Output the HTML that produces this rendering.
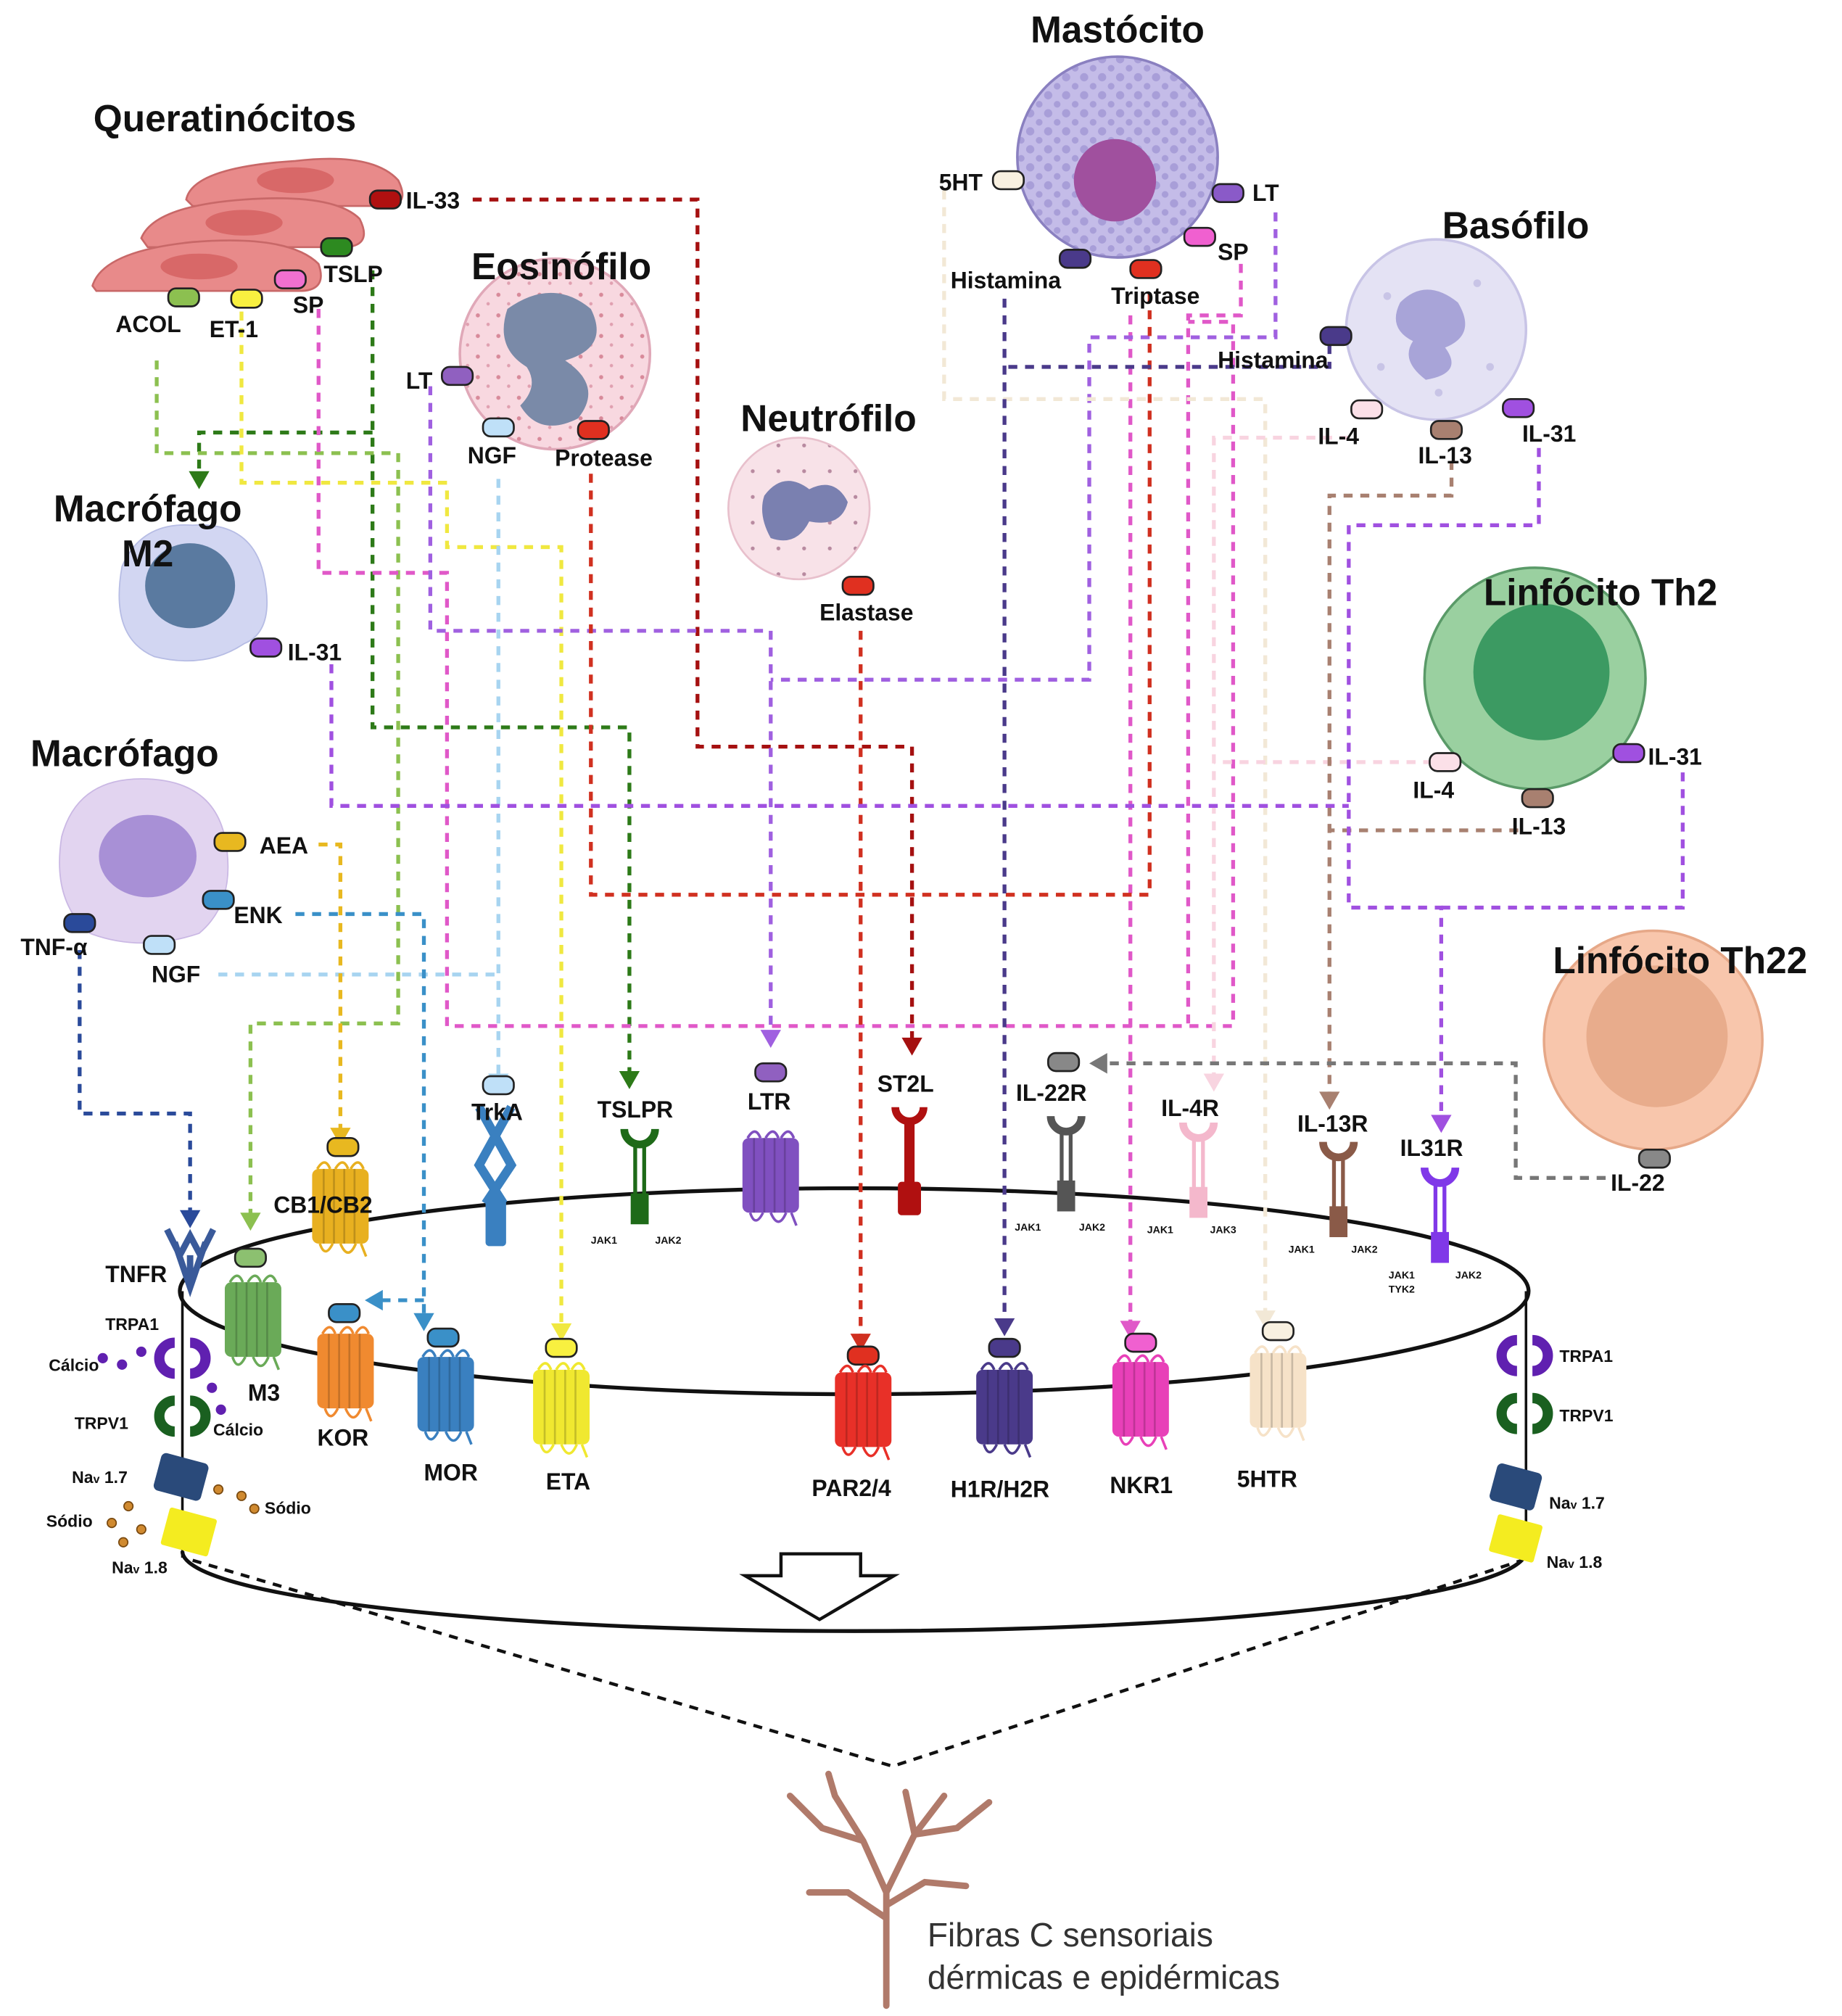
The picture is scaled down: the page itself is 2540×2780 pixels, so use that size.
<!DOCTYPE html>
<html><head><meta charset="utf-8"><style>
html,body{margin:0;padding:0;background:#fff;}
svg{display:block;}
text{font-family:"Liberation Sans",sans-serif;font-weight:bold;fill:#111;}
.t{font-size:29px;}
.l{font-size:18px;}
.s{font-size:8px;}
.d{fill:none;stroke-width:3;stroke-dasharray:7 6;}
</style></head><body>
<svg width="2540" height="2780" viewBox="0 0 1434 1566" preserveAspectRatio="none" xmlns="http://www.w3.org/2000/svg">
<defs>
<symbol id="tm" viewBox="0 0 44 70" overflow="visible">
<rect x="0" y="6" width="44" height="58" rx="5" fill="currentColor"/>
<g stroke="#000" stroke-opacity=".18" stroke-width="1.5"><line x1="9" y1="6" x2="9" y2="64"/><line x1="17" y1="6" x2="17" y2="64"/><line x1="25" y1="6" x2="25" y2="64"/><line x1="33" y1="6" x2="33" y2="64"/></g>
<path d="M4 6 Q10 -4 14 6 M18 6 Q24 -4 28 6 M30 6 Q36 -4 40 6 M6 64 Q10 76 16 64 M22 64 Q28 78 34 64 M38 64 L42 74" stroke="currentColor" stroke-width="2" fill="none"/>
</symbol>
<symbol id="cr" viewBox="0 0 30 80" overflow="visible">
<path d="M3 2 A12 12 0 0 0 27 2" stroke="currentColor" stroke-width="6" fill="none"/>
<rect x="10" y="14" width="3" height="40" fill="currentColor"/><rect x="17" y="14" width="3" height="40" fill="currentColor"/>
<rect x="8" y="52" width="14" height="24" fill="currentColor"/>
</symbol>
<pattern id="mdots" width="14" height="14" patternUnits="userSpaceOnUse">
<rect width="14" height="14" fill="#c4bce8"/><circle cx="4" cy="4" r="3.2" fill="#a89ed8"/><circle cx="11" cy="11" r="2.6" fill="#a89ed8"/>
</pattern>
<pattern id="edots" width="16" height="16" patternUnits="userSpaceOnUse">
<rect width="16" height="16" fill="#f8d8e0"/><circle cx="4" cy="5" r="1.6" fill="#d88a9a"/><circle cx="12" cy="12" r="1.3" fill="#e0a0b0"/>
</pattern>
<pattern id="ndots" width="20" height="20" patternUnits="userSpaceOnUse">
<rect width="20" height="20" fill="#f8e2e8"/><circle cx="6" cy="6" r="1.5" fill="#b88aa0"/>
</pattern>
</defs>

<!-- membrane cylinder -->
<ellipse cx="665" cy="1003" rx="525" ry="80" fill="none" stroke="#111" stroke-width="3"/>
<path d="M142 1205 A523 62 0 0 0 1188 1205" fill="none" stroke="#111" stroke-width="3"/>
<line x1="142" y1="1003" x2="142" y2="1210" stroke="#111" stroke-width="2"/>
<line x1="1188" y1="1003" x2="1188" y2="1210" stroke="#111" stroke-width="2"/>
<path d="M608 1207 H670 V1224 H696 L638 1258 L580 1224 H608 Z" fill="#fff" stroke="#111" stroke-width="2.5"/>
<path d="M150 1212 L695 1372 L1185 1212" fill="none" stroke="#111" stroke-width="2.5" stroke-dasharray="7 6"/>
<!-- tree -->
<g stroke="#b07a6a" fill="none" stroke-linecap="round">
<path d="M690 1558 L690 1470 L672 1430 L650 1395 M690 1470 L712 1425 L735 1395 M672 1430 L640 1420 L615 1395 M650 1395 L645 1378 M712 1425 L745 1420 L770 1400 M690 1490 L660 1470 L630 1470 M690 1480 L720 1462 L752 1465 M712 1425 L705 1392" stroke-width="5"/>
</g>
<text x="722" y="1512" style="font-size:26px;font-weight:normal;fill:#333">Fibras C sensoriais</text>
<text x="722" y="1545" style="font-size:26px;font-weight:normal;fill:#333">dérmicas e epidérmicas</text>

<!-- connectors -->
<path class="d" stroke="#a51010" d="M368 155 H543 V580 H710 V808"/>
<path class="d" stroke="#2d7a18" d="M290 210 V565 H490 V835"/>
<path class="d" stroke="#2d7a18" d="M290 336 H155 V370"/>
<path class="d" stroke="#8cc050" d="M122 280 V352 H310 V795 H195 V945"/>
<path class="d" stroke="#f0e840" d="M188 242 V375 H348 V425 H437 V1032"/>
<path class="d" stroke="#e058c8" d="M248 240 V445 H348 V797 H960 V250 H925"/>
<path class="d" stroke="#e058c8" d="M966 205 V245 H925 V800"/>
<path class="d" stroke="#e058c8" d="M880 245 V1030"/>
<path class="d" stroke="#a060e0" d="M335 300 V490 H600 V805"/>
<path class="d" stroke="#a060e0" d="M993 165 V262 H848 V528 H600"/>
<path class="d" stroke="#a7d4f0" d="M388 372 V838"/>
<path class="d" stroke="#a7d4f0" d="M170 757 H388"/>
<path class="d" stroke="#d03020" d="M460 368 V695 H895 V225"/>
<path class="d" stroke="#d03020" d="M670 490 V1040"/>
<path class="d" stroke="#f2e8d6" d="M735 148 V310 H985 V1022"/>
<path class="d" stroke="#4a3a8a" d="M782 232 V1028"/>
<path class="d" stroke="#4a3a8a" d="M1035 268 V285 H782"/>
<path class="d" stroke="#f8d4e0" d="M1050 340 H945 V838"/>
<path class="d" stroke="#f8d4e0" d="M1115 592 H945"/>
<path class="d" stroke="#a88070" d="M1130 358 V385 H1035 V852"/>
<path class="d" stroke="#a88070" d="M1182 645 H1035"/>
<path class="d" stroke="#a050e0" d="M1198 348 V408 H1050 V705 H1122 V870"/>
<path class="d" stroke="#a050e0" d="M1310 600 V705 H1122"/>
<path class="d" stroke="#a050e0" d="M258 516 V626 H1050"/>
<path class="d" stroke="#777" d="M1250 915 H1180 V826 H862"/>
<path class="d" stroke="#e8b820" d="M248 656 H265 V880"/>
<path class="d" stroke="#3a90c8" d="M230 710 H330 V1025"/>
<path class="d" stroke="#3a90c8" d="M330 1010 H292"/>
<path class="d" stroke="#2a4a9a" d="M62 738 V865 H148 V945"/>

<!-- arrowheads -->
<g>
<path d="M702 806 h16 l-8 14z" fill="#a51010"/>
<path d="M482 832 h16 l-8 14z" fill="#2d7a18"/>
<path d="M147 366 h16 l-8 14z" fill="#2d7a18"/>
<path d="M187 942 h16 l-8 14z" fill="#8cc050"/>
<path d="M429 1028 h16 l-8 14z" fill="#f0e840"/>
<path d="M872 1026 h16 l-8 14z" fill="#e058c8"/>
<path d="M592 800 h16 l-8 14z" fill="#a060e0"/>
<path d="M380 834 h16 l-8 14z" fill="#a7d4f0"/>
<path d="M662 1036 h16 l-8 14z" fill="#d03020"/>
<path d="M977 1018 h16 l-8 14z" fill="#f2e8d6"/>
<path d="M774 1024 h16 l-8 14z" fill="#4a3a8a"/>
<path d="M937 834 h16 l-8 14z" fill="#f8d4e0"/>
<path d="M1027 848 h16 l-8 14z" fill="#a88070"/>
<path d="M1114 866 h16 l-8 14z" fill="#a050e0"/>
<path d="M257 876 h16 l-8 14z" fill="#e8b820"/>
<path d="M322 1020 h16 l-8 14z" fill="#3a90c8"/>
<path d="M298 1002 v16 l-14 -8z" fill="#3a90c8"/>
<path d="M140 940 h16 l-8 14z" fill="#2a4a9a"/>
<path d="M862 818 v16 l-14 -8z" fill="#777"/>
</g>

<!-- cells -->
<g fill="#e88a8a" stroke="#c86868" stroke-width="1.5">
<path d="M145 155 Q150 130 230 125 Q290 118 310 140 Q320 160 300 160 L150 160 Z"/>
<path d="M110 185 Q120 160 190 155 Q260 150 280 170 Q290 190 270 192 L115 192 Z"/>
<path d="M72 222 Q80 195 150 188 Q225 182 248 205 Q255 225 235 226 L75 226 Z"/>
</g>
<ellipse cx="230" cy="140" rx="30" ry="10" fill="#d86868"/>
<ellipse cx="190" cy="173" rx="30" ry="10" fill="#d86868"/>
<ellipse cx="155" cy="207" rx="30" ry="10" fill="#d86868"/>
<circle cx="432" cy="275" r="74" fill="url(#edots)" stroke="#e0a8b8" stroke-width="2"/>
<path d="M395 240 Q430 215 460 240 Q475 270 440 280 Q470 300 450 325 Q420 340 405 315 Q420 300 410 285 Q385 270 395 240 Z" fill="#7a8aa8"/>
<circle cx="622" cy="395" r="55" fill="url(#ndots)" stroke="#e8c0cc" stroke-width="1.5"/>
<path d="M595 385 Q610 365 630 380 Q650 370 660 390 Q655 410 630 405 Q620 425 600 418 Q590 400 595 385 Z" fill="#7a80b0"/>
<circle cx="870" cy="122" r="78" fill="url(#mdots)" stroke="#8a80c0" stroke-width="2"/>
<circle cx="868" cy="140" r="32" fill="#a0509e"/>
<circle cx="1118" cy="256" r="70" fill="#e4e2f4" stroke="#c8c4e6" stroke-width="2"/>
<g fill="#c8c4e6"><circle cx="1080" cy="230" r="3"/><circle cx="1150" cy="220" r="3"/><circle cx="1160" cy="285" r="3"/><circle cx="1075" cy="285" r="3"/><circle cx="1120" cy="305" r="3"/></g>
<path d="M1090 235 Q1110 215 1135 235 Q1150 260 1125 270 Q1140 290 1110 295 Q1090 280 1100 265 Q1080 255 1090 235 Z" fill="#a8a4d8"/>
<path d="M95 440 Q110 405 150 408 Q195 405 205 445 Q215 490 190 500 Q160 520 120 510 Q85 495 95 440 Z" fill="#d2d6f2" stroke="#b6bce4"/>
<ellipse cx="148" cy="455" rx="35" ry="33" fill="#5a7aa0"/>
<path d="M48 650 Q60 605 110 605 Q165 605 175 650 Q185 700 155 725 Q110 740 70 725 Q40 700 48 650 Z" fill="#e2d4f0" stroke="#cab8e4"/>
<ellipse cx="115" cy="665" rx="38" ry="32" fill="#a890d6"/>
<circle cx="1195" cy="527" r="86" fill="#9ad0a0" stroke="#5a9a68" stroke-width="2"/>
<circle cx="1200" cy="522" r="53" fill="#3c9a62"/>
<circle cx="1287" cy="808" r="85" fill="#f8c6ac" stroke="#e6a888" stroke-width="2"/>
<circle cx="1290" cy="805" r="55" fill="#e8ac8c"/>

<!-- ligand pills -->
<g stroke="#222" stroke-width="1.5">
<rect x="288" y="148" width="24" height="14" rx="6" fill="#b01010"/>
<rect x="250" y="185" width="24" height="14" rx="6" fill="#2d8a20"/>
<rect x="131" y="224" width="24" height="14" rx="6" fill="#8cc050"/>
<rect x="180" y="225" width="24" height="14" rx="6" fill="#f8f040"/>
<rect x="214" y="210" width="24" height="14" rx="6" fill="#f070d0"/>
<rect x="344" y="285" width="24" height="14" rx="6" fill="#9060c0"/>
<rect x="376" y="325" width="24" height="14" rx="6" fill="#bfe0f8"/>
<rect x="450" y="327" width="24" height="14" rx="6" fill="#e03020"/>
<rect x="656" y="448" width="24" height="14" rx="6" fill="#e03020"/>
<rect x="773" y="133" width="24" height="14" rx="6" fill="#f8f0e0"/>
<rect x="944" y="143" width="24" height="14" rx="6" fill="#8a5ac8"/>
<rect x="922" y="177" width="24" height="14" rx="6" fill="#f060d0"/>
<rect x="825" y="194" width="24" height="14" rx="6" fill="#4a3a8a"/>
<rect x="880" y="202" width="24" height="14" rx="6" fill="#e03020"/>
<rect x="1028" y="254" width="24" height="14" rx="6" fill="#4a3a8a"/>
<rect x="1052" y="311" width="24" height="14" rx="6" fill="#fbe0e8"/>
<rect x="1114" y="327" width="24" height="14" rx="6" fill="#a88070"/>
<rect x="1170" y="310" width="24" height="14" rx="6" fill="#a050e0"/>
<rect x="195" y="496" width="24" height="14" rx="6" fill="#a050e0"/>
<rect x="1113" y="585" width="24" height="14" rx="6" fill="#fbe0e8"/>
<rect x="1256" y="578" width="24" height="14" rx="6" fill="#a050e0"/>
<rect x="1185" y="613" width="24" height="14" rx="6" fill="#a88070"/>
<rect x="1276" y="893" width="24" height="14" rx="6" fill="#888"/>
<rect x="167" y="647" width="24" height="14" rx="6" fill="#e8b820"/>
<rect x="158" y="692" width="24" height="14" rx="6" fill="#3a90c8"/>
<rect x="50" y="710" width="24" height="14" rx="6" fill="#2a4a9a"/>
<rect x="112" y="727" width="24" height="14" rx="6" fill="#bfe0f8"/>
<rect x="376" y="836" width="24" height="14" rx="6" fill="#bfe0f8"/>
<rect x="588" y="826" width="24" height="14" rx="6" fill="#9060c0"/>
<rect x="816" y="818" width="24" height="14" rx="6" fill="#888"/>
<rect x="255" y="884" width="24" height="14" rx="6" fill="#e8b820"/>
<rect x="183" y="970" width="24" height="14" rx="6" fill="#8cc070"/>
<rect x="256" y="1013" width="24" height="14" rx="6" fill="#3a90c8"/>
<rect x="333" y="1032" width="24" height="14" rx="6" fill="#3a90c8"/>
<rect x="425" y="1040" width="24" height="14" rx="6" fill="#f8f040"/>
<rect x="660" y="1046" width="24" height="14" rx="6" fill="#e03020"/>
<rect x="770" y="1040" width="24" height="14" rx="6" fill="#4a3a8a"/>
<rect x="876" y="1036" width="24" height="14" rx="6" fill="#f060d0"/>
<rect x="983" y="1027" width="24" height="14" rx="6" fill="#f8f0e0"/>
</g>

<use href="#tm" x="243" y="902" width="44" height="70" style="color:#e8b020"/>
<use href="#tm" x="175" y="990" width="44" height="70" style="color:#6aaa58"/>
<use href="#tm" x="247" y="1030" width="44" height="70" style="color:#f08a30"/>
<use href="#tm" x="325" y="1048" width="44" height="70" style="color:#3a80c0"/>
<use href="#tm" x="415" y="1058" width="44" height="70" style="color:#f0e830"/>
<use href="#tm" x="578" y="878" width="44" height="70" style="color:#8050c0"/>
<use href="#tm" x="650" y="1060" width="44" height="70" style="color:#e83028"/>
<use href="#tm" x="760" y="1058" width="44" height="70" style="color:#4a3a8a"/>
<use href="#tm" x="866" y="1052" width="44" height="70" style="color:#e840b8"/>
<use href="#tm" x="973" y="1045" width="44" height="70" style="color:#f6e2c8"/>
<use href="#cr" x="483" y="875" width="30" height="80" style="color:#1e6a18"/>
<use href="#cr" x="815" y="865" width="30" height="80" style="color:#555"/>
<use href="#cr" x="918" y="870" width="30" height="80" style="color:#f4b8cc"/>
<use href="#cr" x="1027" y="885" width="30" height="80" style="color:#8a5a48"/>
<use href="#cr" x="1106" y="905" width="30" height="80" style="color:#8038e8"/>
<path d="M697 860 A11 11 0 0 0 719 860" stroke="#b01010" stroke-width="6" fill="none"/>
<rect x="704" y="870" width="8" height="50" fill="#b01010"/><rect x="699" y="918" width="18" height="26" rx="3" fill="#b01010"/>
<path d="M373 860 L398 905 L378 935 M398 860 L373 905 L392 935" stroke="#3a80c0" stroke-width="7" fill="none"/>
<rect x="378" y="930" width="16" height="38" rx="3" fill="#3a80c0"/>
<path d="M130 955 L140 975 M166 955 L156 975 M140 975 L148 960 L156 975 M148 975 V995 M136 965 L148 1000 L160 965" stroke="#3a5a9a" stroke-width="5" fill="none"/>
<g fill="none" stroke-width="8">
<path d="M136 1043 A12 12 0 1 0 136 1067" stroke="#6020b0"/><path d="M148 1043 A12 12 0 1 1 148 1067" stroke="#6020b0"/>
<path d="M136 1088 A12 12 0 1 0 136 1112" stroke="#1a6020"/><path d="M148 1088 A12 12 0 1 1 148 1112" stroke="#1a6020"/>
<path d="M1181 1041 A12 12 0 1 0 1181 1065" stroke="#6020b0"/><path d="M1193 1041 A12 12 0 1 1 1193 1065" stroke="#6020b0"/>
<path d="M1181 1086 A12 12 0 1 0 1181 1110" stroke="#1a6020"/><path d="M1193 1086 A12 12 0 1 1 1193 1110" stroke="#1a6020"/>
</g>
<g fill="#6020b0"><circle cx="80" cy="1055" r="4"/><circle cx="95" cy="1060" r="4"/><circle cx="110" cy="1050" r="4"/><circle cx="165" cy="1078" r="4"/><circle cx="172" cy="1095" r="4"/></g>
<g transform="rotate(15 140 1147)"><rect x="122" y="1132" width="38" height="30" rx="4" fill="#2a4a7a"/></g>
<g transform="rotate(15 147 1190)"><rect x="128" y="1175" width="38" height="30" rx="2" fill="#f4ec20"/></g>
<g transform="rotate(15 1180 1155)"><rect x="1162" y="1140" width="36" height="30" rx="4" fill="#2a4a7a"/></g>
<g transform="rotate(15 1180 1195)"><rect x="1162" y="1180" width="36" height="30" rx="2" fill="#f4ec20"/></g>
<g fill="#d08a30" stroke="#7a4a10"><circle cx="100" cy="1170" r="3.5"/><circle cx="87" cy="1183" r="3.5"/><circle cx="96" cy="1198" r="3.5"/><circle cx="110" cy="1188" r="3.5"/><circle cx="170" cy="1157" r="3.5"/><circle cx="188" cy="1162" r="3.5"/><circle cx="198" cy="1172" r="3.5"/></g>

<text class="t" x="175" y="102" text-anchor="middle">Queratinócitos</text>
<text class="t" x="437" y="217" text-anchor="middle">Eosinófilo</text>
<text class="t" x="645" y="335" text-anchor="middle">Neutrófilo</text>
<text class="t" x="870" y="33" text-anchor="middle">Mastócito</text>
<text class="t" x="1180" y="185" text-anchor="middle">Basófilo</text>
<text class="t" x="115" y="405" text-anchor="middle">Macrófago</text>
<text class="t" x="115" y="440" text-anchor="middle">M2</text>
<text class="t" x="1246" y="470" text-anchor="middle">Linfócito Th2</text>
<text class="t" x="97" y="595" text-anchor="middle">Macrófago</text>
<text class="t" x="1308" y="756" text-anchor="middle">Linfócito Th22</text>

<g>
<text class="l" x="316" y="162">IL-33</text>
<text class="l" x="252" y="219">TSLP</text>
<text class="l" x="90" y="258">ACOL</text>
<text class="l" x="163" y="262">ET-1</text>
<text class="l" x="228" y="243">SP</text>
<text class="l" x="316" y="302">LT</text>
<text class="l" x="364" y="360">NGF</text>
<text class="l" x="432" y="362">Protease</text>
<text class="l" x="638" y="482">Elastase</text>
<text class="l" x="731" y="148">5HT</text>
<text class="l" x="975" y="156">LT</text>
<text class="l" x="948" y="202">SP</text>
<text class="l" x="740" y="224">Histamina</text>
<text class="l" x="865" y="236">Triptase</text>
<text class="l" x="948" y="286">Histamina</text>
<text class="l" x="1026" y="345">IL-4</text>
<text class="l" x="1104" y="360">IL-13</text>
<text class="l" x="1185" y="343">IL-31</text>
<text class="l" x="224" y="513">IL-31</text>
<text class="l" x="1100" y="620">IL-4</text>
<text class="l" x="1283" y="594">IL-31</text>
<text class="l" x="1177" y="648">IL-13</text>
<text class="l" x="1254" y="925">IL-22</text>
<text class="l" x="202" y="663">AEA</text>
<text class="l" x="182" y="717">ENK</text>
<text class="l" x="16" y="742">TNF-α</text>
<text class="l" x="118" y="763">NGF</text>
<text class="l" x="367" y="870">TrkA</text>
<text class="l" x="465" y="868">TSLPR</text>
<text class="l" x="582" y="862">LTR</text>
<text class="l" x="683" y="848">ST2L</text>
<text class="l" x="791" y="855">IL-22R</text>
<text class="l" x="904" y="867">IL-4R</text>
<text class="l" x="1010" y="879">IL-13R</text>
<text class="l" x="1090" y="898">IL31R</text>
<text class="l" x="213" y="942">CB1/CB2</text>
<text class="l" x="82" y="996">TNFR</text>
<text class="l" x="193" y="1088">M3</text>
<text class="l" x="247" y="1123">KOR</text>
<text class="l" x="330" y="1150">MOR</text>
<text class="l" x="425" y="1157">ETA</text>
<text class="l" x="632" y="1162">PAR2/4</text>
<text class="l" x="740" y="1163">H1R/H2R</text>
<text class="l" x="864" y="1160">NKR1</text>
<text class="l" x="963" y="1155">5HTR</text>
</g>
<g>
<text x="82" y="1033" style="font-size:13px">TRPA1</text>
<text x="38" y="1065" style="font-size:13px">Cálcio</text>
<text x="58" y="1110" style="font-size:13px">TRPV1</text>
<text x="166" y="1115" style="font-size:13px">Cálcio</text>
<text x="56" y="1152" style="font-size:13px">Na<tspan style="font-size:9px">v</tspan> 1.7</text>
<text x="36" y="1186" style="font-size:13px">Sódio</text>
<text x="206" y="1176" style="font-size:13px">Sódio</text>
<text x="87" y="1222" style="font-size:13px">Na<tspan style="font-size:9px">v</tspan> 1.8</text>
<text x="1214" y="1058" style="font-size:13px">TRPA1</text>
<text x="1214" y="1104" style="font-size:13px">TRPV1</text>
<text x="1206" y="1172" style="font-size:13px">Na<tspan style="font-size:9px">v</tspan> 1.7</text>
<text x="1204" y="1218" style="font-size:13px">Na<tspan style="font-size:9px">v</tspan> 1.8</text>
</g>
<g>
<text class="s" x="460" y="966">JAK1</text><text class="s" x="510" y="966">JAK2</text>
<text class="s" x="790" y="956">JAK1</text><text class="s" x="840" y="956">JAK2</text>
<text class="s" x="893" y="958">JAK1</text><text class="s" x="942" y="958">JAK3</text>
<text class="s" x="1003" y="973">JAK1</text><text class="s" x="1052" y="973">JAK2</text>
<text class="s" x="1081" y="993">JAK1</text><text class="s" x="1133" y="993">JAK2</text><text class="s" x="1081" y="1004">TYK2</text>
</g>
</svg>
</body></html>
